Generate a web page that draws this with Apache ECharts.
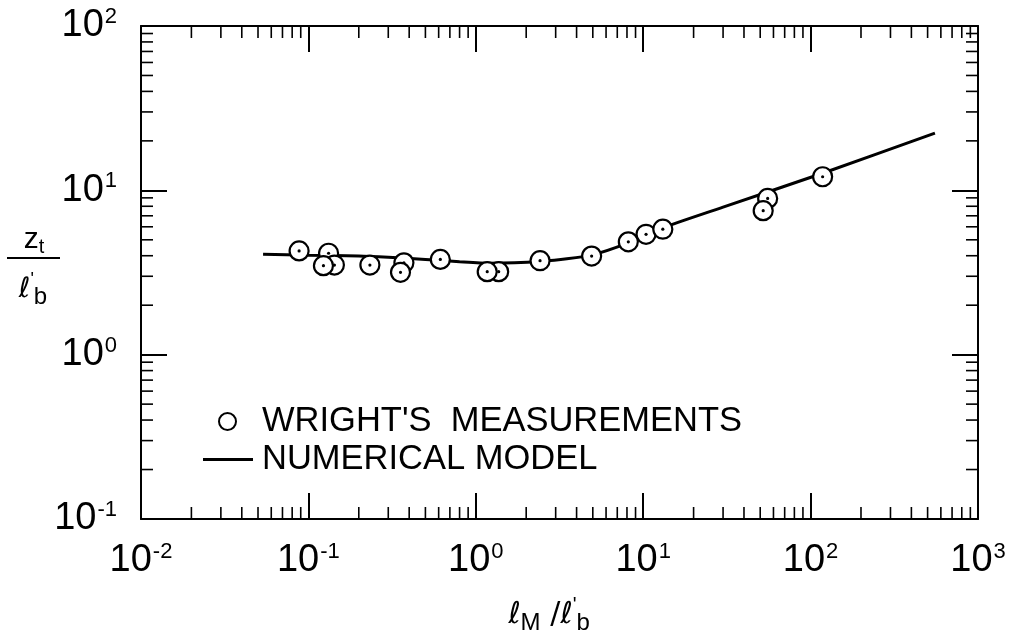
<!DOCTYPE html>
<html>
<head>
<meta charset="utf-8">
<script src="https://cdn.jsdelivr.net/npm/echarts@6/dist/echarts.min.js"></script>
<style>
html,body{margin:0;padding:0;background:#fff;}
#chart{width:1010px;height:639px;}
</style>
</head>
<body>
<div id="chart"></div>
<script>
// ---- data ----
// Wright's measurements (partially hidden circles first so later ones overlap them)
const measX = [0.132, 0.143, 0.372, 1.37, 55.4, 0.088, 0.123, 0.233, 0.355, 0.614, 1.17, 2.42, 4.92, 8.15, 10.4, 13.1, 52.1, 118];
const measY = [4.14, 3.51, 3.62, 3.20, 8.93, 4.28, 3.48, 3.51, 3.17, 3.80, 3.20, 3.73, 3.98, 4.86, 5.40, 5.80, 7.52, 12.1];
// numerical model curve
const modelX = [0.0536, 0.1, 0.2, 0.3, 0.5, 0.8, 1.2, 1.7, 2.4, 3.5, 5, 8, 13, 30, 118, 553];
const modelY = [4.09, 4.03, 3.98, 3.91, 3.80, 3.68, 3.60, 3.62, 3.69, 3.83, 4.05, 4.75, 5.9, 7.9, 12.7, 22.3];
// tick label exponents
const xTickExps = [-2, -1, 0, 1, 2, 3];
const yTickExps = [-1, 0, 1, 2];
const minorMultipliers = [2, 3, 4, 5, 6, 7, 8, 9];
const seriesNames = ["WRIGHT'S MEASUREMENTS", "NUMERICAL MODEL"];

// ---- build ----
const measData = measX.map((x, i) => [x, measY[i]]);
const modelData = modelX.map((x, i) => [x, modelY[i]]);
const minorData = [];
xTickExps.slice(0, -1).forEach(e => minorMultipliers.forEach(m => minorData.push([m * Math.pow(10, e), 1, 0])));
yTickExps.slice(0, -1).forEach(e => minorMultipliers.forEach(m => minorData.push([1, m * Math.pow(10, e), 1])));

const FONT = 'Liberation Sans';
function expLabel(exps) {
  return function (v) {
    const e = Math.round(Math.log10(v));
    if (exps.indexOf(e) < 0) return '';
    return '{b|10}{s|' + (e < 0 ? '-' + (-e) : e) + '}';
  };
}
const labelRich = {
  b: {fontSize: 38, fontFamily: FONT, color: '#000', lineHeight: 40},
  s: {fontSize: 22, fontFamily: FONT, color: '#000', lineHeight: 40, verticalAlign: 'top', padding: [0, 0, 0, 1]}
};
const axisLineStyle = {color: '#000', width: 2};
function mkX(pos, showLabel) {
  return {
    type: 'log', logBase: 10, min: 0.01, max: 1000, position: pos,
    splitNumber: 5,
    axisLine: {show: true, onZero: false, lineStyle: axisLineStyle},
    axisTick: {show: true, inside: true, length: 26, lineStyle: {color: '#000', width: 2}},
    minorTick: {show: false}, splitLine: {show: false},
    axisLabel: {show: showLabel, margin: 22, formatter: expLabel(xTickExps), rich: labelRich}
  };
}
function mkY(pos, showLabel) {
  return {
    type: 'log', logBase: 10, min: 0.1, max: 100, position: pos,
    splitNumber: 3,
    axisLine: {show: true, onZero: false, lineStyle: axisLineStyle},
    axisTick: {show: true, inside: true, length: 26, lineStyle: {color: '#000', width: 2}},
    minorTick: {show: false}, splitLine: {show: false},
    axisLabel: {show: showLabel, margin: 24, formatter: expLabel(yTickExps), rich: labelRich}
  };
}
const MINOR = 12;
const chart = echarts.init(document.getElementById('chart'), null, {renderer: 'canvas'});
const option = {
  backgroundColor: '#fff',
  animation: false,
  grid: {left: 141, right: 32, top: 26, bottom: 120, containLabel: false},
  xAxis: [mkX('bottom', true), mkX('top', false)],
  yAxis: [mkY('left', true), mkY('right', false)],
  legend: [
    {
      data: [{name: seriesNames[0], icon: 'circle'}],
      left: 218, top: 404, padding: 0, itemWidth: 17, itemHeight: 17,
      itemStyle: {color: '#fff', borderColor: '#000', borderWidth: 2},
      formatter: n => n.replace(' ', '  '),
      textStyle: {fontFamily: FONT, fontSize: 34.5, color: '#000', lineHeight: 34, padding: [0, 0, 0, 21]},
      selectedMode: false
    },
    {
      data: [{name: seriesNames[1], icon: 'rect'}],
      left: 203, top: 442, padding: 0, itemWidth: 50, itemHeight: 3,
      itemStyle: {color: '#000', borderWidth: 0},
      textStyle: {fontFamily: FONT, fontSize: 34.5, color: '#000', lineHeight: 34, padding: [0, 0, 0, 4]},
      selectedMode: false
    }
  ],
  series: [
    {
      type: 'custom', name: 'minorTicks', silent: true, clip: false,
      encode: {x: 0, y: 1},
      data: minorData,
      renderItem: function (params, api) {
        const cs = params.coordSys;
        const c = api.coord([api.value(0), api.value(1)]);
        const st = {stroke: '#000', lineWidth: 1.6};
        if (api.value(2) === 0) {
          const b = cs.y + cs.height;
          return {type: 'group', children: [
            {type: 'line', shape: {x1: c[0], y1: b, x2: c[0], y2: b - MINOR}, style: st},
            {type: 'line', shape: {x1: c[0], y1: cs.y, x2: c[0], y2: cs.y + MINOR}, style: st}
          ]};
        }
        const r = cs.x + cs.width;
        return {type: 'group', children: [
          {type: 'line', shape: {x1: cs.x, y1: c[1], x2: cs.x + MINOR, y2: c[1]}, style: st},
          {type: 'line', shape: {x1: r, y1: c[1], x2: r - MINOR, y2: c[1]}, style: st}
        ]};
      }
    },
    {
      type: 'line', name: seriesNames[1], data: modelData,
      showSymbol: false, symbol: 'none', smooth: 0.2,
      lineStyle: {color: '#000', width: 3}, itemStyle: {color: '#000'}, z: 2
    },
    {
      type: 'custom', name: seriesNames[0], data: measData, z: 3,
      encode: {x: 0, y: 1},
      itemStyle: {color: '#fff', borderColor: '#000', borderWidth: 2},
      renderItem: function (params, api) {
        const c = api.coord([api.value(0), api.value(1)]);
        return {type: 'group', children: [
          {type: 'circle', shape: {cx: c[0], cy: c[1], r: 9.5}, style: {fill: '#fff', stroke: '#000', lineWidth: 2.2}},
          {type: 'circle', shape: {cx: c[0], cy: c[1], r: 1.6}, style: {fill: '#000'}}
        ]};
      }
    }
  ],
  graphic: [
    {type: 'text', x: 549, y: 615, style: {
      text: '{l|ℓ}{sub|M}{l| /}{l|ℓ}{sup|\'}{sub|b}',
      align: 'center', verticalAlign: 'middle',
      rich: {
        l: {fontFamily: 'DejaVu Sans', fontSize: 30, fill: '#000', lineHeight: 40},
        sub: {fontFamily: FONT, fontSize: 24, fill: '#000', lineHeight: 40, verticalAlign: 'bottom'},
        sup: {fontFamily: FONT, fontSize: 20, fill: '#000', lineHeight: 40, verticalAlign: 'top'}
      }
    }},
    {type: 'text', x: 34, y: 240, style: {
      text: '{l|z}{sub|t}', align: 'center', verticalAlign: 'middle',
      rich: {
        l: {fontFamily: FONT, fontSize: 30, fill: '#000', lineHeight: 34},
        sub: {fontFamily: FONT, fontSize: 20, fill: '#000', lineHeight: 34, verticalAlign: 'bottom'}
      }
    }},
    {type: 'line', shape: {x1: 7, y1: 258, x2: 60, y2: 258}, style: {stroke: '#000', lineWidth: 2}},
    {type: 'text', x: 33, y: 290, style: {
      text: '{l|ℓ}{sup|\'}{sub|b}', align: 'center', verticalAlign: 'middle',
      rich: {
        l: {fontFamily: 'DejaVu Sans', fontSize: 28, fill: '#000', lineHeight: 38},
        sub: {fontFamily: FONT, fontSize: 24, fill: '#000', lineHeight: 38, verticalAlign: 'bottom'},
        sup: {fontFamily: FONT, fontSize: 18, fill: '#000', lineHeight: 38, verticalAlign: 'top'}
      }
    }}
  ]
};
chart.setOption(option);
</script>
</body>
</html>
